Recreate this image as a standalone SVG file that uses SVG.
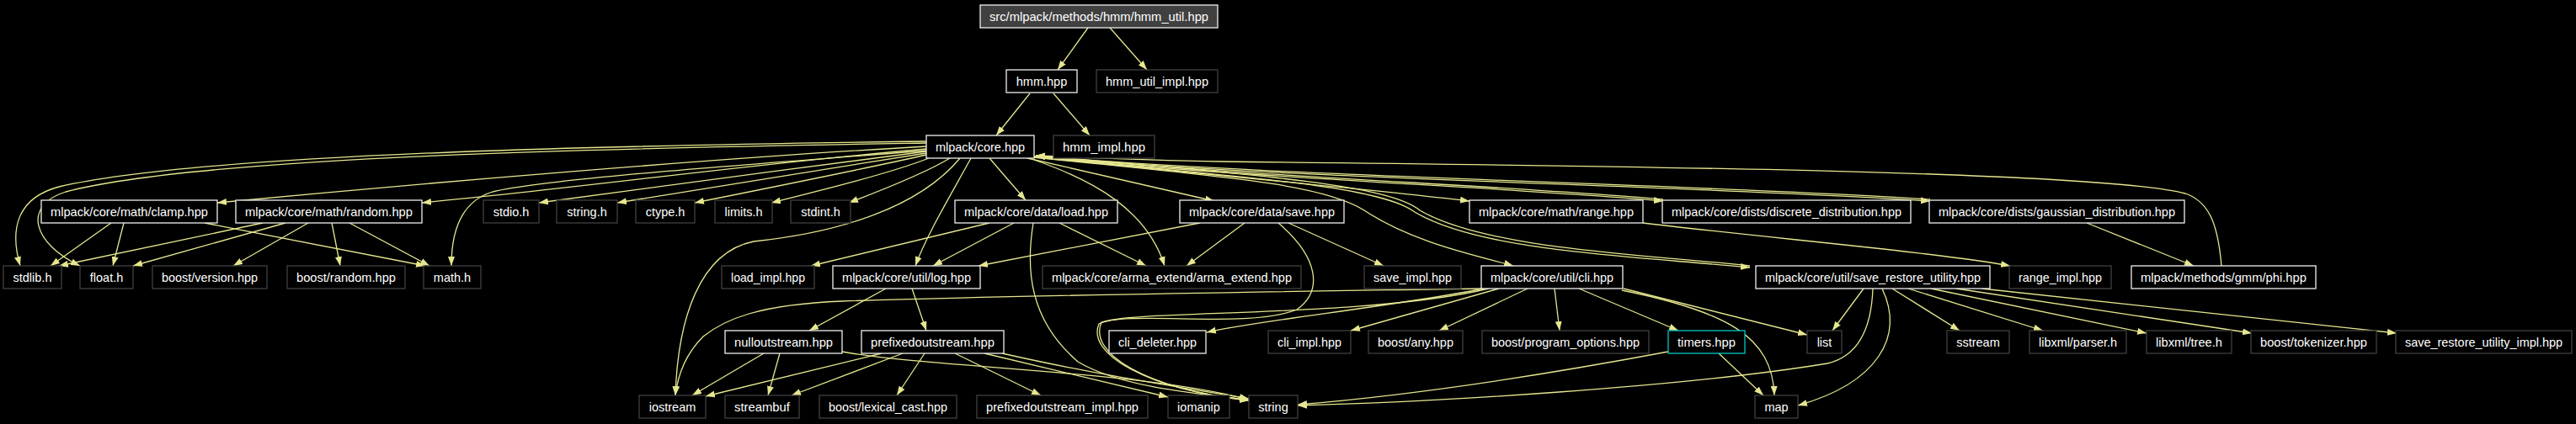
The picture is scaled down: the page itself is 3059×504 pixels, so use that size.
<svg xmlns="http://www.w3.org/2000/svg" width="3059" height="504" viewBox="0 0 3059 504">
<defs>
<marker id="ah" viewBox="0 0 11 8" refX="11" refY="4" markerWidth="11" markerHeight="8" markerUnits="userSpaceOnUse" orient="auto"><path d="M0,0 L11,4 L0,8 z" fill="#e6e68f"/></marker>
<style>
.bg{fill:#000}
.n rect{fill:#000;stroke-width:1.3}
.doc rect{stroke:#f0f0f0}
.ext rect{stroke:#404040}
.root rect{fill:#404040;stroke:#f0f0f0}
.tr rect{stroke:#00c8c8}
.n text{fill:#fff;font-family:"Liberation Sans",Arial,sans-serif;font-size:14.5px;text-anchor:middle}
#edges path{fill:none;stroke:#e6e68f;stroke-width:1.3;marker-end:url(#ah)}
</style>
</defs>
<rect class="bg" x="0" y="0" width="3059" height="504"/>
<g id="edges">
<path d="M1292,33 L1256,83"/>
<path d="M1318,33 L1362,83"/>
<path d="M1223,111 L1183,161"/>
<path d="M1251,111 L1294,161"/>
<path d="M1100,168 C800,172 250,180 70,222 C18,236 12,275 24,316"/>
<path d="M1100,170 C800,175 250,183 78,228 C25,245 40,290 95,316"/>
<path d="M1100,174 C850,188 500,218 258,241"/>
<path d="M1100,177 C900,194 700,222 501,241"/>
<path d="M1100,179 C900,195 650,212 585,228 C545,240 536,280 536,316"/>
<path d="M1100,180 C950,200 750,225 640,241"/>
<path d="M1100,182 C1000,198 850,222 733,241"/>
<path d="M1100,184 C1030,200 920,222 825,241"/>
<path d="M1103,188 C1060,205 980,225 916,241"/>
<path d="M1128,188 C1100,205 1050,225 1008,241"/>
<path d="M1175,188 L1218,238"/>
<path d="M1153,188 C1130,230 1100,280 1087,316"/>
<path d="M1140,188 C1080,260 960,280 895,287 C830,300 805,380 802,470"/>
<path d="M1220,188 L1442,239"/>
<path d="M1228,190 C1300,215 1362,250 1383,316"/>
<path d="M1228,186 C1400,205 1600,222 1745,239"/>
<path d="M1228,186 C1450,210 1800,223 1975,239"/>
<path d="M1228,186 C1500,212 2000,220 2292,239"/>
<path d="M1975,237 C1800,221 1450,208 1230,185"/>
<path d="M2292,237 C2000,218 1500,210 1230,185"/>
<path d="M2638,316 C2634,270 2625,240 2595,230 C2500,205 2000,198 1450,192 C1350,190 1280,187 1230,185"/>
<path d="M1228,187 C1450,210 1570,218 1620,250 C1680,290 1760,305 1797,316"/>
<path d="M1228,187 C1500,212 1640,222 1680,252 C1760,300 1950,305 2078,318"/>
<path d="M2078,316 C1950,302 1765,296 1686,250 C1650,220 1500,208 1230,185"/>
<path d="M132,265 L60,316"/>
<path d="M147,265 L134,316"/>
<path d="M243,265 L505,316"/>
<path d="M312,265 L70,316"/>
<path d="M339,265 L158,316"/>
<path d="M366,265 L277,316"/>
<path d="M394,265 L404,316"/>
<path d="M415,265 L510,316"/>
<path d="M1175,265 L963,316"/>
<path d="M1204,265 L1108,316"/>
<path d="M1258,265 L1361,316"/>
<path d="M1227,265 C1218,320 1222,380 1280,430 C1330,460 1420,468 1483,475"/>
<path d="M1425,265 L1162,316"/>
<path d="M1478,265 L1409,316"/>
<path d="M1530,265 L1643,316"/>
<path d="M1518,265 C1565,305 1572,345 1540,368 C1480,392 1340,368 1305,385 C1290,420 1360,462 1483,476"/>
<path d="M1951,265 C2100,283 2300,300 2387,316"/>
<path d="M2478,265 L2605,316"/>
<path d="M1052,343 L961,393"/>
<path d="M1083,343 L1100,393"/>
<path d="M907,420 L822,470"/>
<path d="M926,420 L912,470"/>
<path d="M1000,418 C1100,437 1350,440 1483,475"/>
<path d="M1047,420 L838,471"/>
<path d="M1072,420 L940,470"/>
<path d="M1098,420 L1065,470"/>
<path d="M1134,420 L1236,470"/>
<path d="M1169,420 L1387,472"/>
<path d="M1190,420 C1300,445 1400,460 1483,474"/>
<path d="M1759,343 C1500,347 1250,350 1000,358 C900,362 860,380 835,400 C815,420 805,445 802,470"/>
<path d="M1762,343 C1650,365 1500,380 1433,395"/>
<path d="M1768,343 C1620,378 1350,368 1308,383 C1292,420 1360,462 1483,476"/>
<path d="M1780,343 L1604,393"/>
<path d="M1814,343 L1709,393"/>
<path d="M1846,343 L1852,393"/>
<path d="M1875,343 L1993,393"/>
<path d="M1928,343 L2146,398"/>
<path d="M1926,345 C2050,370 2105,400 2107,470"/>
<path d="M1981,418 C1800,452 1650,472 1541,481"/>
<path d="M2041,420 L2094,470"/>
<path d="M2213,343 L2176,393"/>
<path d="M2224,343 C2222,400 2200,425 2170,432 C2000,460 1700,478 1541,482"/>
<path d="M2235,343 C2262,400 2230,455 2135,482"/>
<path d="M2247,343 L2327,393"/>
<path d="M2266,343 L2426,393"/>
<path d="M2293,343 L2549,396"/>
<path d="M2323,343 L2674,396"/>
<path d="M2353,343 L2846,396"/>
</g>
<g id="n0" class="n root"><rect x="1164" y="6" width="282" height="27"/><text x="1305" y="24.5" textLength="260" lengthAdjust="spacingAndGlyphs">src/mlpack/methods/hmm/hmm_util.hpp</text></g>
<g id="n1" class="n doc"><rect x="1195" y="83" width="84" height="27"/><text x="1237" y="101.5">hmm.hpp</text></g>
<g id="n2" class="n ext"><rect x="1302" y="83" width="144" height="27"/><text x="1374" y="101.5" textLength="122" lengthAdjust="spacingAndGlyphs">hmm_util_impl.hpp</text></g>
<g id="n3" class="n doc"><rect x="1100" y="161" width="128" height="27"/><text x="1164" y="179.5" textLength="106" lengthAdjust="spacingAndGlyphs">mlpack/core.hpp</text></g>
<g id="n4" class="n ext"><rect x="1251" y="161" width="120" height="27"/><text x="1311" y="179.5" textLength="98" lengthAdjust="spacingAndGlyphs">hmm_impl.hpp</text></g>
<g id="n5" class="n doc"><rect x="49" y="238" width="209" height="27"/><text x="153.5" y="256.5" textLength="187" lengthAdjust="spacingAndGlyphs">mlpack/core/math/clamp.hpp</text></g>
<g id="n6" class="n doc"><rect x="280" y="238" width="221" height="27"/><text x="390.5" y="256.5" textLength="199" lengthAdjust="spacingAndGlyphs">mlpack/core/math/random.hpp</text></g>
<g id="n7" class="n ext"><rect x="574" y="238" width="66" height="27"/><text x="607" y="256.5">stdio.h</text></g>
<g id="n8" class="n ext"><rect x="661" y="238" width="72" height="27"/><text x="697" y="256.5">string.h</text></g>
<g id="n9" class="n ext"><rect x="755" y="238" width="70" height="27"/><text x="790" y="256.5">ctype.h</text></g>
<g id="n10" class="n ext"><rect x="849" y="238" width="68" height="27"/><text x="883" y="256.5">limits.h</text></g>
<g id="n11" class="n ext"><rect x="939" y="238" width="71" height="27"/><text x="974.5" y="256.5">stdint.h</text></g>
<g id="n12" class="n doc"><rect x="1134" y="238" width="193" height="27"/><text x="1230.5" y="256.5" textLength="171" lengthAdjust="spacingAndGlyphs">mlpack/core/data/load.hpp</text></g>
<g id="n13" class="n doc"><rect x="1401" y="238" width="195" height="27"/><text x="1498.5" y="256.5" textLength="173" lengthAdjust="spacingAndGlyphs">mlpack/core/data/save.hpp</text></g>
<g id="n14" class="n doc"><rect x="1745" y="238" width="206" height="27"/><text x="1848" y="256.5" textLength="184" lengthAdjust="spacingAndGlyphs">mlpack/core/math/range.hpp</text></g>
<g id="n15" class="n doc"><rect x="1974" y="238" width="295" height="27"/><text x="2121.5" y="256.5" textLength="273" lengthAdjust="spacingAndGlyphs">mlpack/core/dists/discrete_distribution.hpp</text></g>
<g id="n16" class="n doc"><rect x="2291" y="238" width="303" height="27"/><text x="2442.5" y="256.5" textLength="281" lengthAdjust="spacingAndGlyphs">mlpack/core/dists/gaussian_distribution.hpp</text></g>
<g id="n17" class="n ext"><rect x="4" y="316" width="69" height="27"/><text x="38.5" y="334.5">stdlib.h</text></g>
<g id="n18" class="n ext"><rect x="95" y="316" width="63" height="27"/><text x="126.5" y="334.5">float.h</text></g>
<g id="n19" class="n ext"><rect x="181" y="316" width="136" height="27"/><text x="249" y="334.5" textLength="114" lengthAdjust="spacingAndGlyphs">boost/version.hpp</text></g>
<g id="n20" class="n ext"><rect x="341" y="316" width="140" height="27"/><text x="411" y="334.5" textLength="118" lengthAdjust="spacingAndGlyphs">boost/random.hpp</text></g>
<g id="n21" class="n ext"><rect x="503" y="316" width="68" height="27"/><text x="537" y="334.5">math.h</text></g>
<g id="n22" class="n ext"><rect x="857" y="316" width="110" height="27"/><text x="912" y="334.5" textLength="88" lengthAdjust="spacingAndGlyphs">load_impl.hpp</text></g>
<g id="n23" class="n doc"><rect x="989" y="316" width="175" height="27"/><text x="1076.5" y="334.5" textLength="153" lengthAdjust="spacingAndGlyphs">mlpack/core/util/log.hpp</text></g>
<g id="n24" class="n ext"><rect x="1238" y="316" width="307" height="27"/><text x="1391.5" y="334.5" textLength="285" lengthAdjust="spacingAndGlyphs">mlpack/core/arma_extend/arma_extend.hpp</text></g>
<g id="n25" class="n ext"><rect x="1620" y="316" width="115" height="27"/><text x="1677.5" y="334.5" textLength="93" lengthAdjust="spacingAndGlyphs">save_impl.hpp</text></g>
<g id="n26" class="n doc"><rect x="1759" y="316" width="168" height="27"/><text x="1843" y="334.5" textLength="146" lengthAdjust="spacingAndGlyphs">mlpack/core/util/cli.hpp</text></g>
<g id="n27" class="n doc"><rect x="2085" y="316" width="278" height="27"/><text x="2224" y="334.5" textLength="256" lengthAdjust="spacingAndGlyphs">mlpack/core/util/save_restore_utility.hpp</text></g>
<g id="n28" class="n ext"><rect x="2386" y="316" width="121" height="27"/><text x="2446.5" y="334.5" textLength="99" lengthAdjust="spacingAndGlyphs">range_impl.hpp</text></g>
<g id="n29" class="n doc"><rect x="2531" y="316" width="219" height="27"/><text x="2640.5" y="334.5" textLength="197" lengthAdjust="spacingAndGlyphs">mlpack/methods/gmm/phi.hpp</text></g>
<g id="n30" class="n doc"><rect x="861" y="393" width="139" height="27"/><text x="930.5" y="411.5" textLength="117" lengthAdjust="spacingAndGlyphs">nulloutstream.hpp</text></g>
<g id="n31" class="n doc"><rect x="1023" y="393" width="169" height="27"/><text x="1107.5" y="411.5" textLength="147" lengthAdjust="spacingAndGlyphs">prefixedoutstream.hpp</text></g>
<g id="n32" class="n doc"><rect x="1317" y="393" width="115" height="27"/><text x="1374.5" y="411.5" textLength="93" lengthAdjust="spacingAndGlyphs">cli_deleter.hpp</text></g>
<g id="n33" class="n ext"><rect x="1506" y="393" width="98" height="27"/><text x="1555" y="411.5" textLength="76" lengthAdjust="spacingAndGlyphs">cli_impl.hpp</text></g>
<g id="n34" class="n ext"><rect x="1625" y="393" width="112" height="27"/><text x="1681" y="411.5" textLength="90" lengthAdjust="spacingAndGlyphs">boost/any.hpp</text></g>
<g id="n35" class="n ext"><rect x="1760" y="393" width="198" height="27"/><text x="1859" y="411.5" textLength="176" lengthAdjust="spacingAndGlyphs">boost/program_options.hpp</text></g>
<g id="n36" class="n tr"><rect x="1981" y="393" width="91" height="27"/><text x="2026.5" y="411.5" textLength="69" lengthAdjust="spacingAndGlyphs">timers.hpp</text></g>
<g id="n37" class="n ext"><rect x="2146" y="393" width="41" height="27"/><text x="2166.5" y="411.5">list</text></g>
<g id="n38" class="n ext"><rect x="2312" y="393" width="74" height="27"/><text x="2349" y="411.5">sstream</text></g>
<g id="n39" class="n ext"><rect x="2410" y="393" width="115" height="27"/><text x="2467.5" y="411.5" textLength="93" lengthAdjust="spacingAndGlyphs">libxml/parser.h</text></g>
<g id="n40" class="n ext"><rect x="2549" y="393" width="101" height="27"/><text x="2599.5" y="411.5" textLength="79" lengthAdjust="spacingAndGlyphs">libxml/tree.h</text></g>
<g id="n41" class="n ext"><rect x="2673" y="393" width="149" height="27"/><text x="2747.5" y="411.5" textLength="127" lengthAdjust="spacingAndGlyphs">boost/tokenizer.hpp</text></g>
<g id="n42" class="n ext"><rect x="2845" y="393" width="209" height="27"/><text x="2949.5" y="411.5" textLength="187" lengthAdjust="spacingAndGlyphs">save_restore_utility_impl.hpp</text></g>
<g id="n43" class="n ext"><rect x="759" y="470" width="79" height="27"/><text x="798.5" y="488.5">iostream</text></g>
<g id="n44" class="n ext"><rect x="861" y="470" width="88" height="27"/><text x="905" y="488.5" textLength="66" lengthAdjust="spacingAndGlyphs">streambuf</text></g>
<g id="n45" class="n ext"><rect x="973" y="470" width="163" height="27"/><text x="1054.5" y="488.5" textLength="141" lengthAdjust="spacingAndGlyphs">boost/lexical_cast.hpp</text></g>
<g id="n46" class="n ext"><rect x="1160" y="470" width="203" height="27"/><text x="1261.5" y="488.5" textLength="181" lengthAdjust="spacingAndGlyphs">prefixedoutstream_impl.hpp</text></g>
<g id="n47" class="n ext"><rect x="1387" y="470" width="73" height="27"/><text x="1423.5" y="488.5">iomanip</text></g>
<g id="n48" class="n ext"><rect x="1483" y="470" width="58" height="27"/><text x="1512" y="488.5">string</text></g>
<g id="n49" class="n ext"><rect x="2084" y="470" width="51" height="27"/><text x="2109.5" y="488.5">map</text></g>
</svg>
